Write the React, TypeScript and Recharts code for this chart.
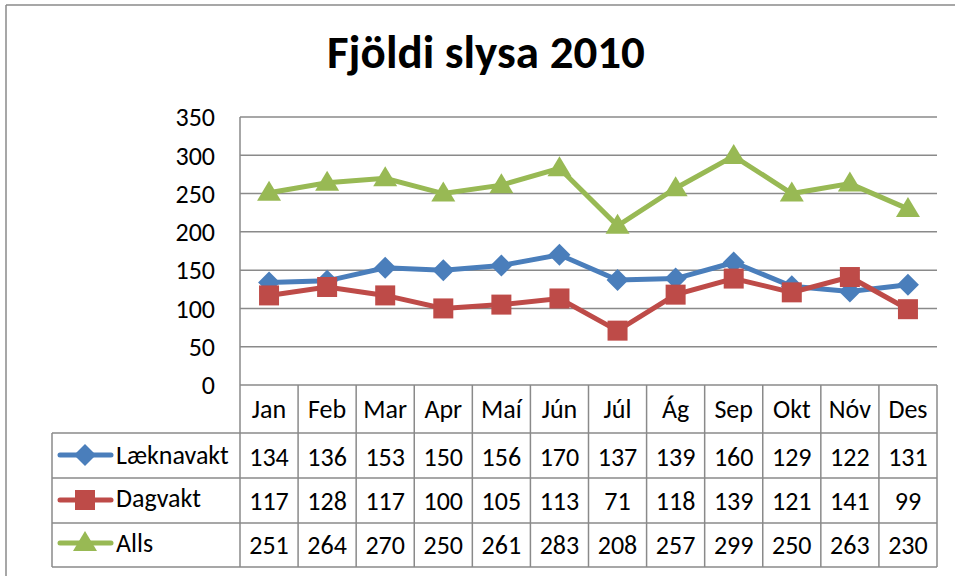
import { LineChart, Line, XAxis, YAxis, CartesianGrid } from "recharts";

const months = ["Jan", "Feb", "Mar", "Apr", "Maí", "Jún", "Júl", "Ág", "Sep", "Okt", "Nóv", "Des"];
const laeknavakt = [134, 136, 153, 150, 156, 170, 137, 139, 160, 129, 122, 131];
const dagvakt = [117, 128, 117, 100, 105, 113, 71, 118, 139, 121, 141, 99];
const alls = [251, 264, 270, 250, 261, 283, 208, 257, 299, 250, 263, 230];
const yTicks = [0, 50, 100, 150, 200, 250, 300, 350];

const seriesNames = ["Læknavakt", "Dagvakt", "Alls"];
const seriesColors = ["#4A7EBB", "#BE4B48", "#98B954"];
const seriesValues = [laeknavakt, dagvakt, alls];

const W = 955;
const H = 576;
const PLOT_LEFT = 240;
const PLOT_RIGHT = 937;
const PLOT_TOP = 117;
const PLOT_BOTTOM = 385;
const Y_AXIS_W = 60;
const COL = (PLOT_RIGHT - PLOT_LEFT) / months.length;
const ROW_LINES = [433, 478, 523, 567]; // bottom of header row, then each series row
const ROW_TEXT = [457, 501, 545];
const LEGEND_LEFT = 52;
const GRID = "#8a8a8a";
const FONT = "Carlito, 'Open Sans', sans-serif";
const FS = 26;

const data = months.map((m, i) => ({
  month: m,
  laeknavakt: laeknavakt[i],
  dagvakt: dagvakt[i],
  alls: alls[i],
}));

function Diamond(p: any) {
  const { cx, cy } = p;
  if (cx == null || cy == null) return null;
  const r = 11;
  return (
    <polygon
      key={`d-${p.index}`}
      points={`${cx},${cy - r} ${cx + r},${cy} ${cx},${cy + r} ${cx - r},${cy}`}
      fill={seriesColors[0]}
    />
  );
}

function Square(p: any) {
  const { cx, cy } = p;
  if (cx == null || cy == null) return null;
  const s = 20;
  return <rect key={`s-${p.index}`} x={cx - s / 2} y={cy - s / 2} width={s} height={s} fill={seriesColors[1]} />;
}

function Triangle(p: any) {
  const { cx, cy } = p;
  if (cx == null || cy == null) return null;
  return (
    <polygon
      key={`t-${p.index}`}
      points={`${cx},${cy - 12} ${cx + 12},${cy + 8} ${cx - 12},${cy + 8}`}
      fill={seriesColors[2]}
    />
  );
}

// one column of the data table under each month
function TableTick(props: any) {
  const { x, y, index } = props;
  const right = x + COL / 2;
  return (
    <g>
      <line x1={right} y1={y} x2={right} y2={ROW_LINES[3]} stroke={GRID} strokeWidth={1.5} />
      {index === 0 && (
        <line x1={x - COL / 2} y1={y} x2={x - COL / 2} y2={ROW_LINES[3]} stroke={GRID} strokeWidth={1.5} />
      )}
      <text x={x} y={409} textAnchor="middle" dominantBaseline="central" fontSize={FS} fontFamily={FONT} fill="#000">
        {months[index]}
      </text>
      {seriesValues.map((vals, r) => (
        <text
          key={r}
          x={x}
          y={ROW_TEXT[r]}
          textAnchor="middle"
          dominantBaseline="central"
          fontSize={FS}
          fontFamily={FONT}
          fill="#000"
        >
          {vals[index]}
        </text>
      ))}
    </g>
  );
}

function LegendIcon({ i, y }: { i: number; y: number }) {
  const c = seriesColors[i];
  const cx = 85;
  return (
    <g>
      <line x1={60} y1={y} x2={111} y2={y} stroke={c} strokeWidth={5} strokeLinecap="round" />
      {i === 0 && <polygon points={`${cx},${y - 11} ${cx + 11},${y} ${cx},${y + 11} ${cx - 11},${y}`} fill={c} />}
      {i === 1 && <rect x={cx - 10} y={y - 10} width={20} height={20} fill={c} />}
      {i === 2 && <polygon points={`${cx},${y - 12} ${cx + 12},${y + 8} ${cx - 12},${y + 8}`} fill={c} />}
    </g>
  );
}

export default function App() {
  const legendY = [455, 500, 543];
  const legendTextY = [455, 498, 543];
  return (
    <div
      style={{
        position: "fixed",
        left: 0,
        top: 0,
        width: W,
        height: H,
        overflow: "hidden",
        background: "#fff",
      }}
    >
      <svg width={W} height={H} style={{ position: "absolute", left: 0, top: 0 }}>
        <line x1={6} y1={5} x2={W} y2={5} stroke={GRID} strokeWidth={1.5} />
        <line x1={6} y1={5} x2={6} y2={H} stroke={GRID} strokeWidth={1.5} />
        <text x={486} y={68} textAnchor="middle" fontSize={47} fontWeight="bold" fontFamily={FONT} fill="#000">
          Fjöldi slysa 2010
        </text>
        {ROW_LINES.map((ly) => (
          <line key={ly} x1={LEGEND_LEFT} y1={ly} x2={PLOT_RIGHT} y2={ly} stroke={GRID} strokeWidth={1.5} />
        ))}
        <line x1={LEGEND_LEFT} y1={ROW_LINES[0]} x2={LEGEND_LEFT} y2={ROW_LINES[3]} stroke={GRID} strokeWidth={1.5} />
        {seriesNames.map((n, i) => (
          <g key={n}>
            <LegendIcon i={i} y={legendY[i]} />
            <text x={116} y={legendTextY[i]} dominantBaseline="central" fontSize={FS} fontFamily={FONT} fill="#000">
              {n}
            </text>
          </g>
        ))}
      </svg>
      <div style={{ position: "absolute", left: 0, top: 0 }}>
        <LineChart
          width={W}
          height={H}
          data={data}
          margin={{ top: PLOT_TOP, right: W - PLOT_RIGHT, bottom: 0, left: PLOT_LEFT - Y_AXIS_W }}
        >
          <CartesianGrid vertical={false} stroke={GRID} strokeWidth={1.5} />
          <XAxis
            dataKey="month"
            height={H - PLOT_BOTTOM}
            padding={{ left: COL / 2, right: COL / 2 }}
            axisLine={false}
            tickLine={false}
            tickSize={0}
            tickMargin={0}
            interval={0}
            tick={<TableTick />}
          />
          <YAxis
            width={Y_AXIS_W}
            domain={[0, 350]}
            ticks={yTicks}
            interval={0}
            axisLine={{ stroke: GRID, strokeWidth: 1.5 }}
            tickLine={false}
            tickSize={0}
            tickMargin={25}
            tick={{ fontSize: FS, fontFamily: FONT, fill: "#000" }}
          />
          <Line dataKey="laeknavakt" stroke={seriesColors[0]} strokeWidth={5} dot={Diamond} isAnimationActive={false} />
          <Line dataKey="dagvakt" stroke={seriesColors[1]} strokeWidth={5} dot={Square} isAnimationActive={false} />
          <Line dataKey="alls" stroke={seriesColors[2]} strokeWidth={5} dot={Triangle} isAnimationActive={false} />
        </LineChart>
      </div>
    </div>
  );
}
